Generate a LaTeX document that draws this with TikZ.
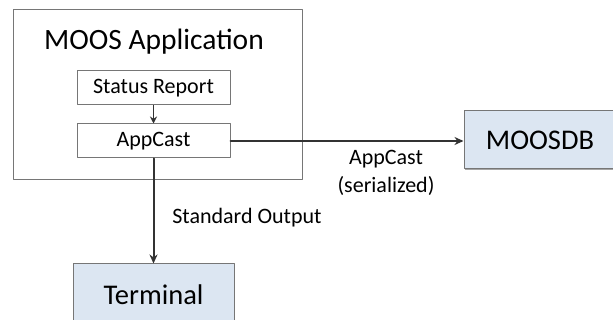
\documentclass[tikz,border=0pt]{standalone}
\usepackage{fontspec}
\setmainfont{Carlito}
\usetikzlibrary{shadows,arrows.meta}
\definecolor{boxblue}{HTML}{DCE6F2}
\definecolor{edgegray}{HTML}{767676}
\definecolor{wiregray}{HTML}{333333}
\tikzset{
	plainbox/.style={draw=edgegray, line width=1pt, fill=white, inner sep=0pt},
	hostbox/.style={draw=edgegray, line width=1pt, fill=boxblue, inner sep=0pt,
		drop shadow={shadow xshift=1.2pt, shadow yshift=-1.2pt, opacity=0.35, fill=black}},
	wire/.style={draw=wiregray, line width=2pt, -{Stealth[length=9pt, width=8pt]}}
}
\begin{document}
\begin{tikzpicture}[x=1pt, y=-1pt, line cap = round, line join = round]
		\useasboundingbox (0,0) rectangle (613,320);
		% application frame and its two parts
		\node[plainbox, minimum width=289pt, minimum height=170pt] (app) at (157.5,94.5) {};
		\node[font=\fontsize{29.5}{33}\selectfont] (apptitle) at (154,42) {MOOS Application};
		\node[plainbox, minimum width=153pt, minimum height=34pt, font=\fontsize{22}{26}\selectfont] (status) at (153.5,88) {Status Report};
		\node[plainbox, minimum width=153pt, minimum height=34pt, font=\fontsize{22}{26}\selectfont] (cast) at (153.5,141) {AppCast};
		% targets
		\node[hostbox, minimum width=152pt, minimum height=58pt, font=\fontsize{28.5}{32}\selectfont] (db) at (540,140) {MOOSDB};
		\node[hostbox, minimum width=161pt, minimum height=62pt, font=\fontsize{28.5}{32}\selectfont] (term) at (153.5,295) {Terminal};
		% connectors
		\draw[wire, line width=1.4pt, -{Stealth[length=7pt, width=7pt]}] (status) -- (cast);
		\draw[wire] (cast.east) -- (db.west|-cast.east);
		\draw[wire] (cast) -- (term);
		\node[font=\fontsize{22}{27.5}\selectfont, align=center] (castlabel) at (386,173) {AppCast\\(serialized)};
		\node[font=\fontsize{22}{26}\selectfont] (stdout) at (247,218) {Standard Output};
		\end{tikzpicture}
\end{document}
